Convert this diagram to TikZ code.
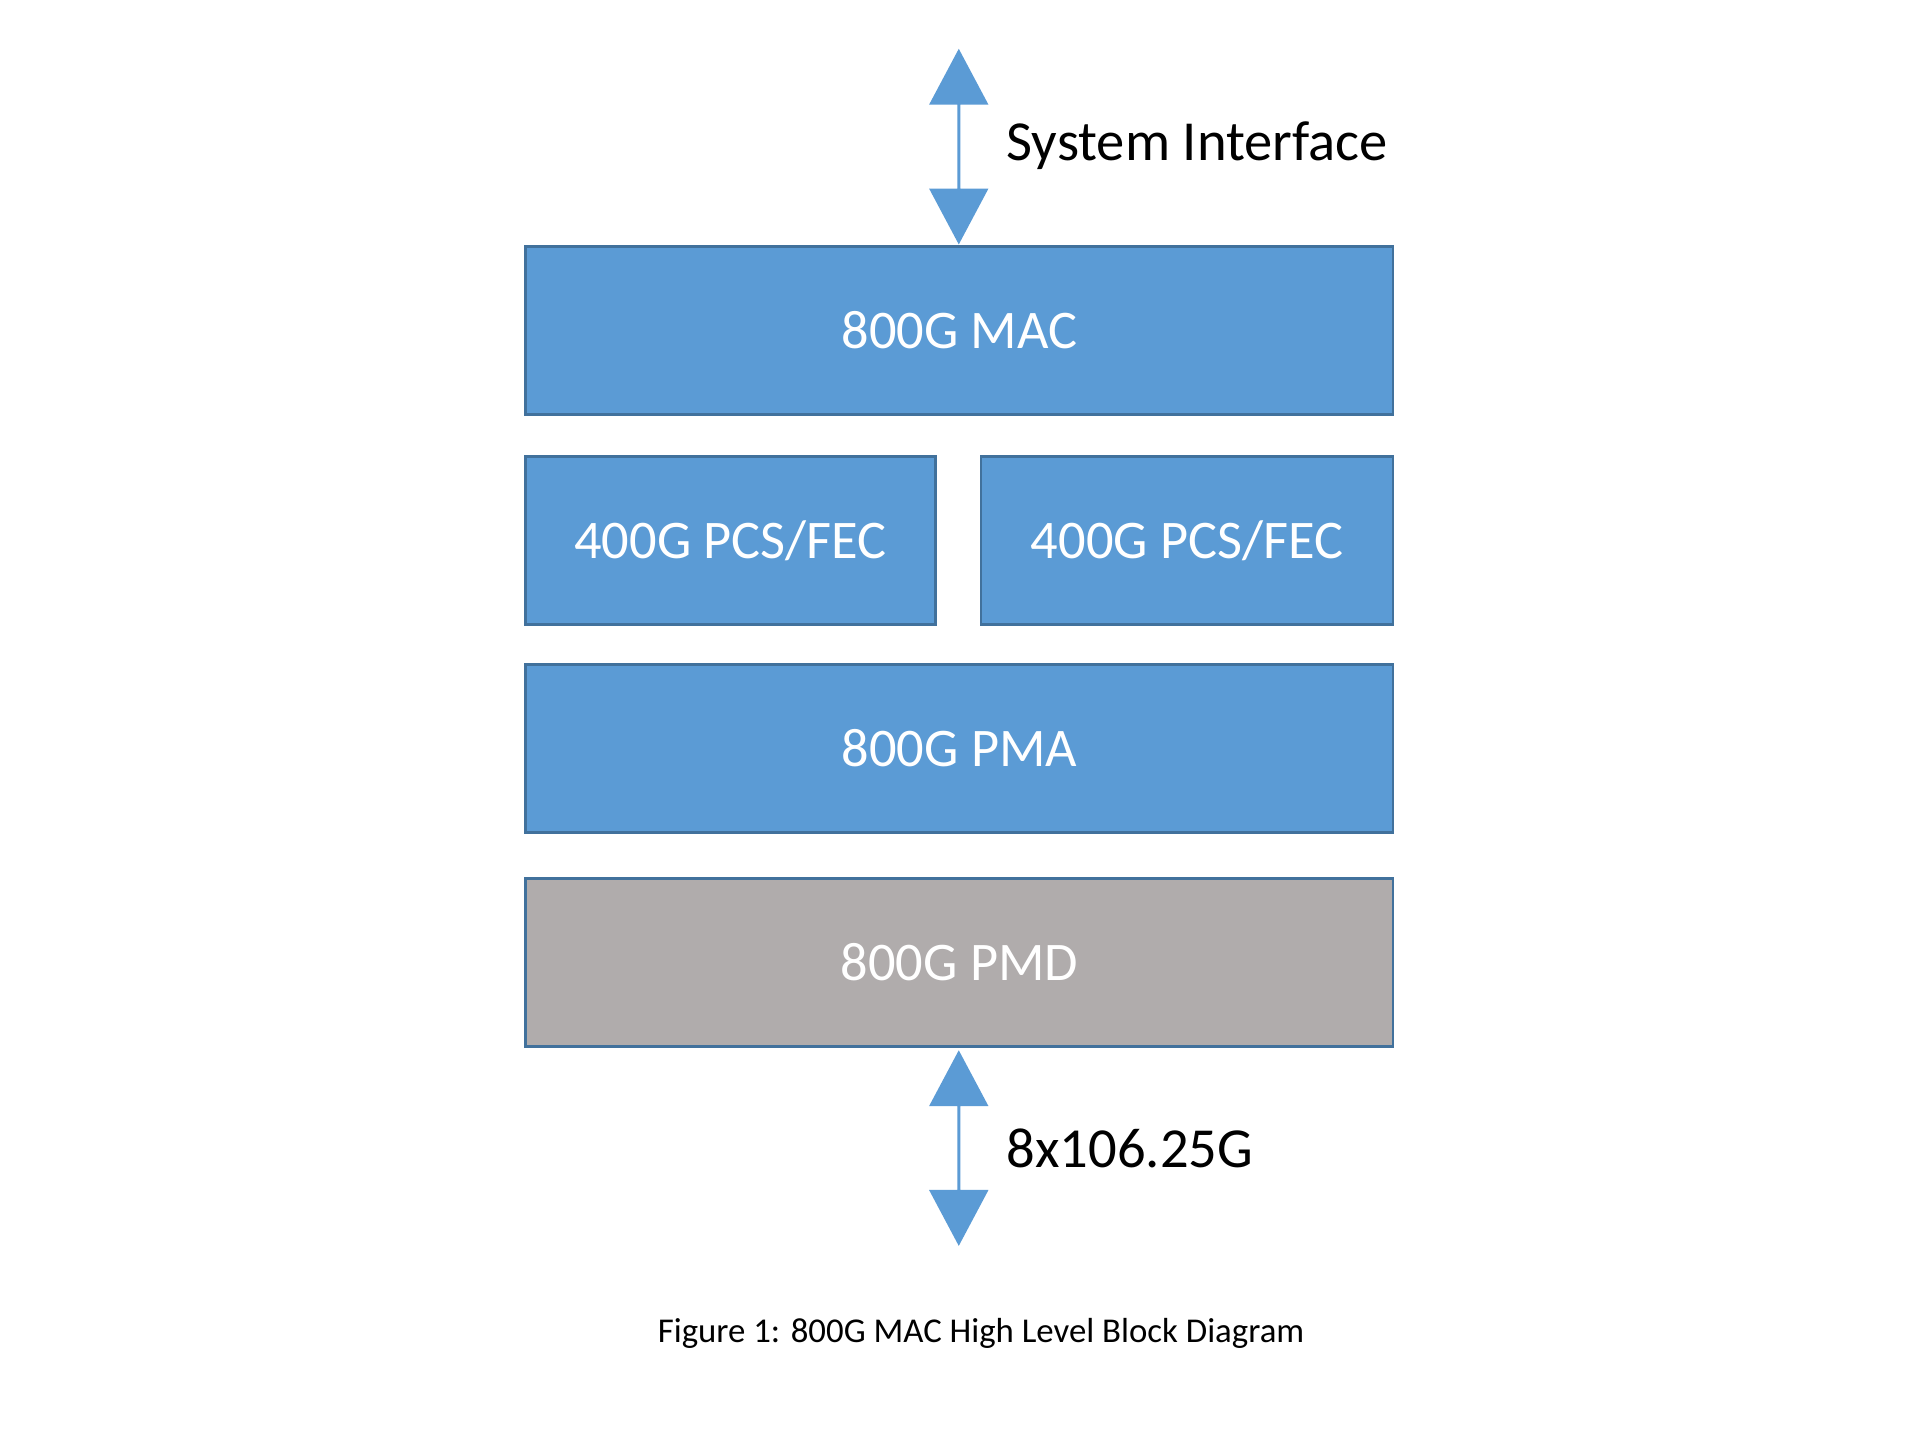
\documentclass[tikz,border=0pt]{standalone}
\usepackage{fontspec}
\setmainfont{Carlito}
\usetikzlibrary{shapes.arrows}
\definecolor{bfill}{HTML}{5B9BD5}
\definecolor{bline}{HTML}{41719C}
\definecolor{gfill}{HTML}{B0ACAC}
\begin{document}
\begin{tikzpicture}[x=0.01cm,y=-0.01cm,
 blk/.style={draw=bline,line width=0.6pt,fill=bfill,text=white,font=\fontsize{12.5}{14}\selectfont},
 dbl/.style={double arrow,fill=bfill,draw=none,rotate=90,minimum height=1.58cm,minimum width=0.48cm,double arrow head extend=0.13cm,double arrow tip angle=56,inner sep=0pt},
 lbl/.style={anchor=west,font=\fontsize{13}{15}\selectfont,inner sep=0pt}]
\useasboundingbox (0,0) rectangle (1552,1160);
\fill[white] (0,0) rectangle (1552,1160);
\draw[blk] (425,199) rectangle (1126,335) node[midway] (mac) {800G MAC};
\draw[blk] (425,369) rectangle (756,505) node[midway] (pcs1) {400G PCS/FEC};
\draw[blk] (793,369) rectangle (1126,505) node[midway] (pcs2) {400G PCS/FEC};
\draw[blk] (425,537) rectangle (1126,673) node[midway] (pma) {800G PMA};
\draw[blk,fill=gfill] (425,710) rectangle (1126,846) node[midway] (pmd) {800G PMD};
\node[dbl] (a1) at (775,118.5) {};
\node[dbl] (a2) at (775,928) {};
\node[lbl] (si) at (813,118) {System Interface};
\node[lbl] (rate) at (813,928) {8x106.25G};
\node[font=\fontsize{8}{10}\selectfont] (cap) at (793,1078) {Figure 1: 800G MAC High Level Block Diagram};
\end{tikzpicture}
\end{document}
